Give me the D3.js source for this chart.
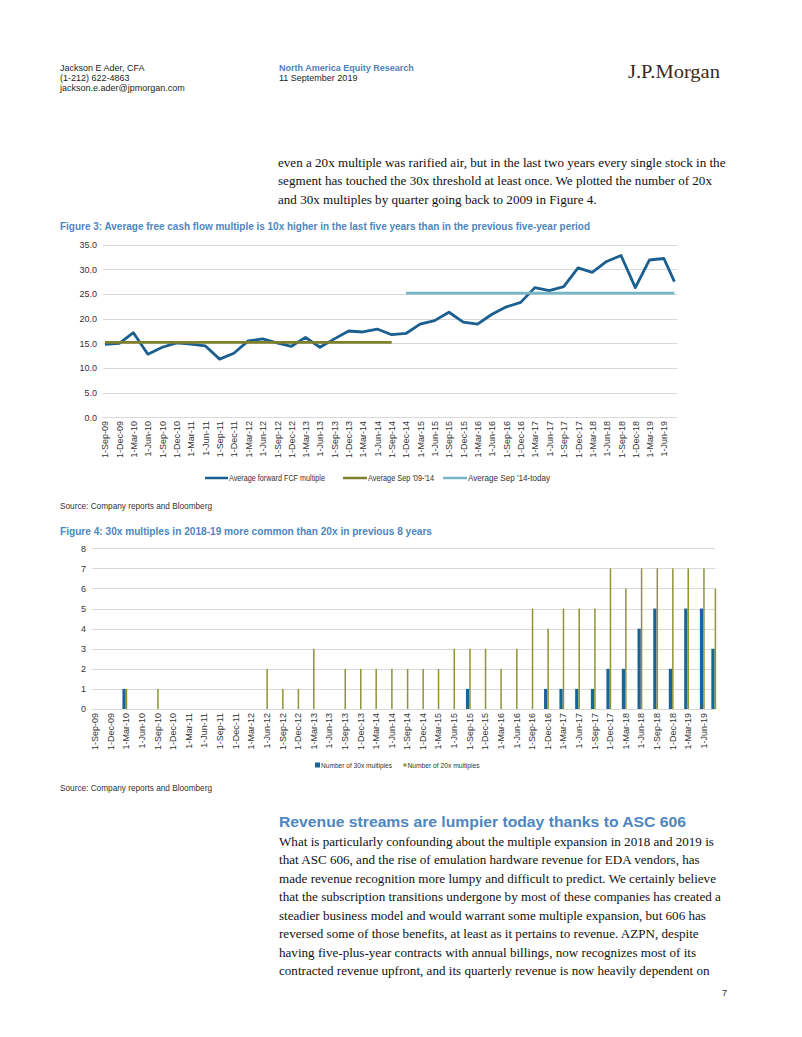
<!DOCTYPE html>
<html><head><meta charset="utf-8">
<script src="https://cdn.jsdelivr.net/npm/d3@7"></script>
<style>
body{margin:0;background:#fff;}
svg{display:block;}
</style></head><body>
<svg id="page" width="802" height="1037"></svg>
<script>
// ---------------- DATA ----------------
const quarterLabels = ["1-Sep-09","1-Dec-09","1-Mar-10","1-Jun-10","1-Sep-10","1-Dec-10","1-Mar-11","1-Jun-11","1-Sep-11","1-Dec-11",
  "1-Mar-12","1-Jun-12","1-Sep-12","1-Dec-12","1-Mar-13","1-Jun-13","1-Sep-13","1-Dec-13","1-Mar-14","1-Jun-14",
  "1-Sep-14","1-Dec-14","1-Mar-15","1-Jun-15","1-Sep-15","1-Dec-15","1-Mar-16","1-Jun-16","1-Sep-16","1-Dec-16",
  "1-Mar-17","1-Jun-17","1-Sep-17","1-Dec-17","1-Mar-18","1-Jun-18","1-Sep-18","1-Dec-18","1-Mar-19","1-Jun-19"];
const lastPointLabel = "7-Aug-19";

const fcfMultiple = [14.8,15.0,17.15,12.8,14.2,15.1,14.85,14.5,11.8,13.0,
  15.5,15.9,15.1,14.4,16.2,14.2,15.9,17.5,17.3,17.9,
  16.75,17.0,18.9,19.6,21.3,19.3,18.9,20.9,22.4,23.3,
  26.3,25.7,26.5,30.3,29.4,31.6,32.8,26.3,31.9,32.2,27.5];
const avgSep09to14 = 15.2;
const avgSep09to14Span = ["1-Sep-09","1-Sep-14"];
const avgSep14today = 25.2;
const avgSep14todaySpan = ["1-Dec-14", lastPointLabel];
const fcfTicks = [0,5,10,15,20,25,30,35];
const fcfSeriesNames = ["Average forward FCF multiple","Average Sep '09-'14","Average Sep '14-today"];

const count30x = [0,0,1,0,0,0,0,0,0,0, 0,0,0,0,0,0,0,0,0,0, 0,0,0,0,1,0,0,0,0,1, 1,1,1,2,2,4,5,2,5,5,3];
const count20x = [0,0,1,0,1,0,0,0,0,0, 0,2,1,1,3,0,2,2,2,2, 2,2,2,3,3,3,2,3,5,4, 5,5,5,7,6,7,7,7,7,7,6];
const countTicks = [0,1,2,3,4,5,6,7,8];
const countSeriesNames = ["Number of 30x multiples","Number of 20x multiples"];

// ---------------- STYLE ----------------
const C = {blue:"#1b5f91", olive:"#7f802c", teal:"#76b6c7", bar30:"#1a6598", bar20:"#8f9434",
  grid:"#d9d9d9", title:"#4d86c1", text:"#231f20"};
const NARROW = "'Liberation Sans Narrow','Arial Narrow','Liberation Sans',sans-serif";
const SANS = "'Liberation Sans',Arial,sans-serif";
const SERIF = "'Liberation Serif','Times New Roman',serif";

const parse = d3.timeParse("%d-%b-%y");
const qDates = quarterLabels.map(parse);
const allDates = qDates.concat([parse(lastPointLabel)]);

const svg = d3.select("#page");

function txt(x, y, s, o) {
  o = o || {};
  const t = svg.append("text").attr("x", x).attr("y", y).text(s)
    .attr("font-family", o.family || SANS).attr("font-size", o.size || 9)
    .attr("fill", o.fill || C.text);
  if (o.weight) t.attr("font-weight", o.weight);
  if (o.anchor) t.attr("text-anchor", o.anchor);
  if (o.len) t.attr("textLength", o.len).attr("lengthAdjust", "spacingAndGlyphs");
  return t;
}

// ---------------- PAGE HEADER ----------------
txt(60, 71, "Jackson E Ader, CFA");
txt(60, 81, "(1-212) 622-4863");
txt(60, 91, "jackson.e.ader@jpmorgan.com");
txt(279, 71, "North America Equity Research", {weight:"bold", fill:"#4f81bd"});
txt(279, 81, "11 September 2019");
txt(628, 78, "J.P.Morgan", {family:SERIF, size:19.5, fill:"#3a2a22", len:92});

// ---------------- BODY TEXT (top) ----------------
const topPara = ["even a 20x multiple was rarified air, but in the last two years every single stock in the",
  "segment has touched the 30x threshold at least once. We plotted the number of 20x",
  "and 30x multiples by quarter going back to 2009 in Figure 4."];
topPara.forEach((s,i)=>txt(278, 166.5 + i*18.5, s, {family:SERIF, size:13.1, fill:"#111"}));

// ---------------- FIGURE 3 ----------------
txt(60, 230, "Figure 3: Average free cash flow multiple is 10x higher in the last five years than in the previous five-year period",
  {family:NARROW, size:11, weight:"bold", fill:C.title, len:530});

const x1 = d3.scaleTime().domain([qDates[0], qDates[qDates.length-1]]).range([105, 663.9]);
const y1 = d3.scaleLinear().domain([0, 35]).range([417.3, 244.7]);
const g1 = svg.append("g");

g1.append("g").selectAll("line").data(fcfTicks).join("line")
  .attr("x1", 103).attr("x2", 677)
  .attr("y1", d=>Math.round(y1(d))+0.5).attr("y2", d=>Math.round(y1(d))+0.5)
  .attr("stroke", C.grid).attr("stroke-width", 1);

const ya1 = g1.append("g").attr("transform","translate(97,0)")
  .call(d3.axisLeft(y1).tickValues(fcfTicks).tickFormat(d3.format(".1f")).tickSize(0).tickPadding(0));
ya1.select(".domain").remove();
ya1.selectAll("text").attr("font-family", NARROW).attr("font-size", 9).attr("fill","#333");

const xa1 = g1.append("g").attr("transform","translate(0,421)")
  .call(d3.axisBottom(x1).tickValues(qDates).tickFormat((d,i)=>quarterLabels[i]).tickSize(0));
xa1.select(".domain").remove();
xa1.selectAll("text").attr("font-family", NARROW).attr("font-size", 9).attr("fill","#333")
  .attr("x",0).attr("y",0).attr("dy","0.33em").attr("transform","rotate(-90)").style("text-anchor","end");

const line1 = d3.line().x((d,i)=>x1(allDates[i])).y(d=>y1(d));
g1.append("path").datum(fcfMultiple).attr("d", line1)
  .attr("fill","none").attr("stroke", C.blue).attr("stroke-width", 2.8).attr("stroke-linejoin","round");

g1.append("line").attr("x1", x1(parse(avgSep09to14Span[0]))).attr("x2", x1(parse(avgSep09to14Span[1])))
  .attr("y1", y1(avgSep09to14)).attr("y2", y1(avgSep09to14))
  .attr("stroke", C.olive).attr("stroke-width", 2.8);
g1.append("line").attr("x1", x1(parse(avgSep14todaySpan[0]))).attr("x2", x1(parse(avgSep14todaySpan[1])))
  .attr("y1", y1(avgSep14today)).attr("y2", y1(avgSep14today))
  .attr("stroke", C.teal).attr("stroke-width", 2.8);

// legend 1
const leg1 = [{n:fcfSeriesNames[0], c:C.blue, x:205, tx:229, w:96},
              {n:fcfSeriesNames[1], c:C.olive, x:343, tx:368, w:66},
              {n:fcfSeriesNames[2], c:C.teal, x:443, tx:468, w:82}];
leg1.forEach(l=>{
  svg.append("line").attr("x1", l.x).attr("x2", l.tx-1).attr("y1", 478).attr("y2", 478)
    .attr("stroke", l.c).attr("stroke-width", 2.5);
  txt(l.tx, 481, l.n, {family:NARROW, size:9, fill:"#333", len:l.w});
});
txt(60, 508.5, "Source: Company reports and Bloomberg", {family:NARROW, size:9.5, fill:"#333", len:152});

// ---------------- FIGURE 4 ----------------
txt(60, 535, "Figure 4: 30x multiples in 2018-19 more common than 20x in previous 8 years",
  {family:NARROW, size:11, weight:"bold", fill:C.title, len:372});

const x2 = d3.scaleTime().domain([qDates[0], qDates[qDates.length-1]]).range([94.8, 703.2]);
const y2 = d3.scaleLinear().domain([0, 8]).range([709, 548.3]);
const g2 = svg.append("g");

g2.append("g").selectAll("line").data(countTicks).join("line")
  .attr("x1", 91.7).attr("x2", 715)
  .attr("y1", d=>Math.round(y2(d))+0.5).attr("y2", d=>Math.round(y2(d))+0.5)
  .attr("stroke", C.grid).attr("stroke-width", 1);

const ya2 = g2.append("g").attr("transform","translate(86,0)")
  .call(d3.axisLeft(y2).tickValues(countTicks).tickFormat(d3.format("d")).tickSize(0).tickPadding(0));
ya2.select(".domain").remove();
ya2.selectAll("text").attr("font-family", NARROW).attr("font-size", 9).attr("fill","#333");

const xa2 = g2.append("g").attr("transform","translate(0,713)")
  .call(d3.axisBottom(x2).tickValues(qDates).tickFormat((d,i)=>quarterLabels[i]).tickSize(0));
xa2.select(".domain").remove();
xa2.selectAll("text").attr("font-family", NARROW).attr("font-size", 9).attr("fill","#333")
  .attr("x",0).attr("y",0).attr("dy","0.33em").attr("transform","rotate(-90)").style("text-anchor","end");

const w30 = 3.3, w20 = 1.5;
g2.append("g").selectAll("rect").data(count30x.map((v,i)=>({v, d:allDates[i]})).filter(o=>o.v>0)).join("rect")
  .attr("x", o=>x2(o.d)-w30).attr("width", w30)
  .attr("y", o=>y2(o.v)).attr("height", o=>y2(0)-y2(o.v)).attr("fill", C.bar30);
g2.append("g").selectAll("rect").data(count20x.map((v,i)=>({v, d:allDates[i]})).filter(o=>o.v>0)).join("rect")
  .attr("x", o=>x2(o.d)).attr("width", w20)
  .attr("y", o=>y2(o.v)).attr("height", o=>y2(0)-y2(o.v)).attr("fill", C.bar20);

// legend 2
svg.append("rect").attr("x", 315).attr("y", 762.5).attr("width", 5).attr("height", 5).attr("fill", C.bar30);
txt(321, 768, countSeriesNames[0], {family:NARROW, size:8, fill:"#333", len:71});
svg.append("rect").attr("x", 403.5).attr("y", 763.5).attr("width", 3).attr("height", 3).attr("fill", C.bar20);
txt(407.5, 768, countSeriesNames[1], {family:NARROW, size:8, fill:"#333", len:72});
txt(60, 790.5, "Source: Company reports and Bloomberg", {family:NARROW, size:9.5, fill:"#333", len:152});

// ---------------- SECTION ----------------
txt(279, 827, "Revenue streams are lumpier today thanks to ASC 606", {size:15, weight:"bold", fill:"#4d86c1", len:407});
const para2 = ["What is particularly confounding about the multiple expansion in 2018 and 2019 is",
  "that ASC 606, and the rise of emulation hardware revenue for EDA vendors, has",
  "made revenue recognition more lumpy and difficult to predict. We certainly believe",
  "that the subscription transitions undergone by most of these companies has created a",
  "steadier business model and would warrant some multiple expansion, but 606 has",
  "reversed some of those benefits, at least as it pertains to revenue. AZPN, despite",
  "having five-plus-year contracts with annual billings, now recognizes most of its",
  "contracted revenue upfront, and its quarterly revenue is now heavily dependent on"];
para2.forEach((s,i)=>txt(279, 845.5 + i*18.55, s, {family:SERIF, size:13.1, fill:"#111"}));

txt(727, 996, "7", {anchor:"end"});
</script>
</body></html>
